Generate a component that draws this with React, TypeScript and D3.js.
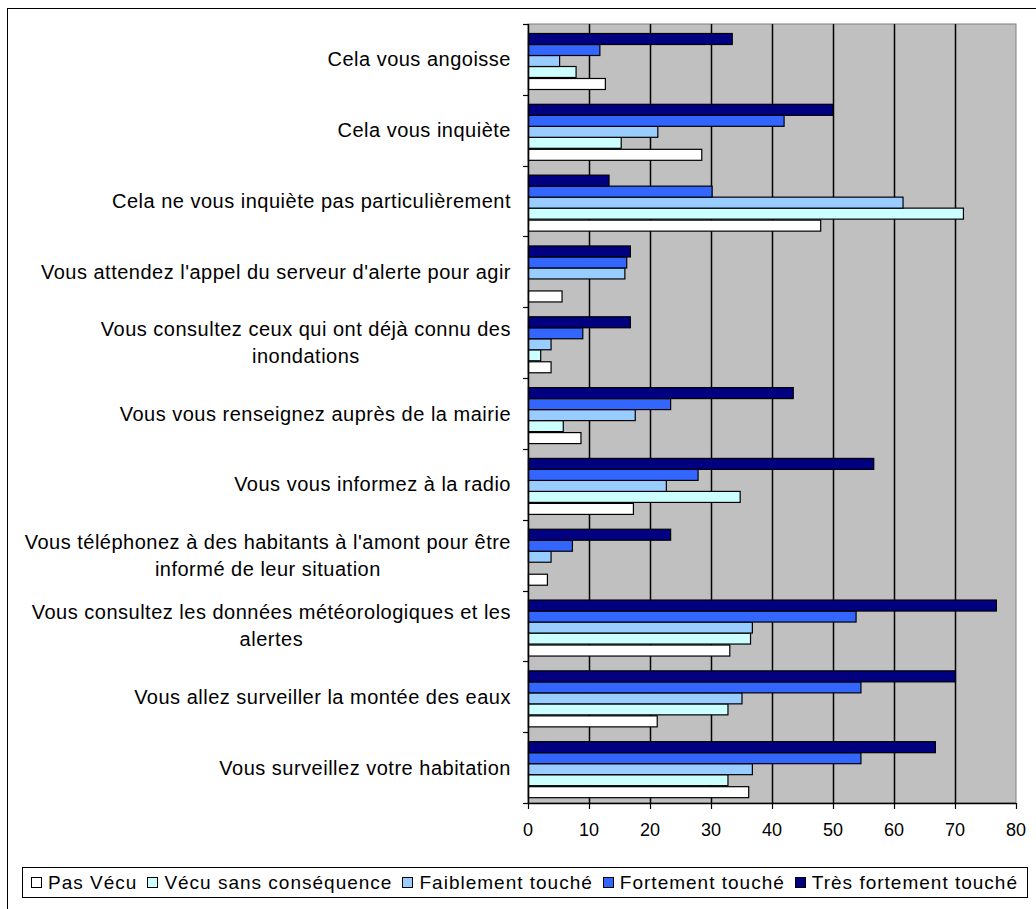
import React from "react";
import * as d3 from "d3";

const categories: string[] = [
  "Cela vous angoisse",
  "Cela vous inquiète",
  "Cela ne vous inquiète pas particulièrement",
  "Vous attendez l'appel du serveur d'alerte pour agir",
  "Vous consultez ceux qui ont déjà connu des\ninondations",
  "Vous vous renseignez auprès de la mairie",
  "Vous vous informez à la radio",
  "Vous téléphonez à des habitants à l'amont pour être\ninformé de leur situation",
  "Vous consultez les données météorologiques et les\nalertes",
  "Vous allez surveiller la montée des eaux",
  "Vous surveillez votre habitation",
];

const seriesNames: string[] = [
  "Pas Vécu",
  "Vécu sans conséquence",
  "Faiblement touché",
  "Fortement touché",
  "Très fortement touché",
];

const pasVecu: number[] = [12.6, 28.4, 47.9, 5.5, 3.7, 8.6, 17.2, 3.1, 33.0, 21.1, 36.1];
const vecuSansConsequence: number[] = [7.8, 15.2, 71.3, 0, 2.0, 5.7, 34.7, 0, 36.4, 32.7, 32.7];
const faiblementTouche: number[] = [5.1, 21.2, 61.4, 15.8, 3.7, 17.5, 22.6, 3.7, 36.7, 35.0, 36.7];
const fortementTouche: number[] = [11.7, 41.9, 30.1, 16.1, 8.9, 23.3, 27.8, 7.2, 53.7, 54.5, 54.5];
const tresFortementTouche: number[] = [33.4, 49.9, 13.2, 16.7, 16.7, 43.4, 56.6, 23.3, 76.7, 70.0, 66.7];

const seriesValues: number[][] = [pasVecu, vecuSansConsequence, faiblementTouche, fortementTouche, tresFortementTouche];
const seriesColors: string[] = ["#FFFFFF", "#CCFFFF", "#99CCFF", "#3366FF", "#000080"];

const xTicks: number[] = [0, 10, 20, 30, 40, 50, 60, 70, 80];

const FONT = "'Liberation Sans', Arial, sans-serif";

let ctx: CanvasRenderingContext2D | null = null;
function measure(text: string, size: number, ls: number): number {
  if (!ctx) ctx = document.createElement("canvas").getContext("2d");
  const base = ctx ? ((ctx.font = `${size}px ${FONT}`), ctx.measureText(text).width) : text.length * size * 0.5;
  return base + ls * Array.from(text).length;
}

export default function App() {
  const W = 1036;
  const H = 909;
  const plot = { left: 528, right: 1016, top: 24, bottom: 803 };

  const x = d3.scaleLinear().domain([0, 80]).range([plot.left, plot.right]);
  const y = d3.scaleBand<string>().domain(categories).range([plot.top, plot.bottom]).padding(0);
  const innerOrder = seriesNames.slice().reverse();
  const yi = d3
    .scaleBand<string>()
    .domain(innerOrder)
    .range([0, y.bandwidth()])
    .paddingInner(0)
    .paddingOuter(0.66)
    .align(0.6);

  const labelSize = 20;
  const labelLS = 0.5;
  const lineH = 27;
  const labelRight = 511;

  const legendSize = 19;
  const legendLS = 1;
  const legendBox = { x: 22, y: 867, w: 1005, h: 30 };
  const marker = 11;
  const markerGap = 6;
  const innerPad = 9;
  const itemWidths = seriesNames.map((s) => marker + markerGap + measure(s, legendSize, legendLS));
  const totalItems = d3.sum(itemWidths);
  const gap = (legendBox.w - 2 * innerPad - totalItems) / (seriesNames.length - 1);
  const itemX: number[] = [];
  let cx = legendBox.x + innerPad;
  itemWidths.forEach((w) => {
    itemX.push(cx);
    cx += w + gap;
  });

  const boundaries = d3.range(categories.length + 1).map((i) =>
    i < categories.length ? (y(categories[i]) as number) : plot.bottom
  );

  return (
    <svg
      width={W}
      height={H}
      style={{ position: "absolute", left: 0, top: 0, background: "#fff" }}
      fontFamily={FONT}
    >
      <rect x={7.5} y={8.5} width={W + 20} height={H + 20} fill="#fff" stroke="#000" strokeWidth={1} />

      <rect
        x={plot.left}
        y={plot.top}
        width={plot.right - plot.left}
        height={plot.bottom - plot.top}
        fill="#C0C0C0"
        stroke="#808080"
        strokeWidth={1}
      />

      {xTicks
        .filter((t) => t > 0 && t < 80)
        .map((t) => (
          <line
            key={"g" + t}
            x1={Math.round(x(t)) + 0.5}
            x2={Math.round(x(t)) + 0.5}
            y1={plot.top}
            y2={plot.bottom}
            stroke="#000"
            strokeWidth={1.5}
          />
        ))}

      {categories.map((c, ci) => (
        <g key={"c" + ci} transform={`translate(0,${y(c)})`}>
          {seriesNames.map((s, si) => {
            const v = seriesValues[si][ci];
            if (v <= 0) return null;
            const by = yi(s) as number;
            return (
              <rect
                key={s}
                x={x(0) + 0.5}
                y={Math.round(by) + 0.5}
                width={x(v) - x(0)}
                height={Math.round(yi.bandwidth())}
                fill={seriesColors[si]}
                stroke="#000"
                strokeWidth={1.2}
              />
            );
          })}
        </g>
      ))}

      <line x1={plot.left + 0.5} x2={plot.left + 0.5} y1={plot.top} y2={plot.bottom} stroke="#000" strokeWidth={1.5} />
      {boundaries.map((b, i) => (
        <line key={"yt" + i} x1={plot.left - 5} x2={plot.left} y1={Math.round(b) + 0.5} y2={Math.round(b) + 0.5} stroke="#000" strokeWidth={1.2} />
      ))}

      <line x1={plot.left} x2={plot.right} y1={plot.bottom + 0.5} y2={plot.bottom + 0.5} stroke="#000" strokeWidth={1.5} />
      {xTicks.map((t) => (
        <g key={"xt" + t}>
          <line
            x1={Math.round(x(t)) + 0.5}
            x2={Math.round(x(t)) + 0.5}
            y1={plot.bottom}
            y2={plot.bottom + 6}
            stroke="#000"
            strokeWidth={1.2}
          />
          <text x={x(t)} y={plot.bottom + 33} textAnchor="middle" fontSize={18} fill="#000">
            {t}
          </text>
        </g>
      ))}

      {categories.map((c, ci) => {
        const lines = c.split("\n");
        const maxW = d3.max(lines, (l) => measure(l, labelSize, labelLS)) as number;
        const centerX = labelRight - maxW / 2;
        const mid = (y(c) as number) + y.bandwidth() / 2;
        const startY = mid - ((lines.length - 1) * lineH) / 2;
        return (
          <text key={"l" + ci} fontSize={labelSize} letterSpacing={labelLS} fill="#000">
            {lines.map((l, li) => {
              const w = measure(l, labelSize, labelLS);
              return (
                <tspan key={li} x={centerX - w / 2} y={startY + li * lineH} dy="0.35em">
                  {l}
                </tspan>
              );
            })}
          </text>
        );
      })}

      <rect
        x={legendBox.x + 0.5}
        y={legendBox.y + 0.5}
        width={legendBox.w}
        height={legendBox.h}
        fill="#fff"
        stroke="#000"
        strokeWidth={1}
      />
      {seriesNames.map((s, si) => (
        <g key={"lg" + si}>
          <rect
            x={Math.round(itemX[si]) + 0.5}
            y={Math.round(legendBox.y + legendBox.h / 2 - marker / 2) + 0.5}
            width={marker - 1}
            height={marker - 1}
            fill={seriesColors[si]}
            stroke="#000"
            strokeWidth={1}
          />
          <text
            x={itemX[si] + marker + markerGap}
            y={legendBox.y + legendBox.h / 2}
            dy="0.35em"
            fontSize={legendSize}
            letterSpacing={legendLS}
            fill="#000"
          >
            {s}
          </text>
        </g>
      ))}
    </svg>
  );
}
